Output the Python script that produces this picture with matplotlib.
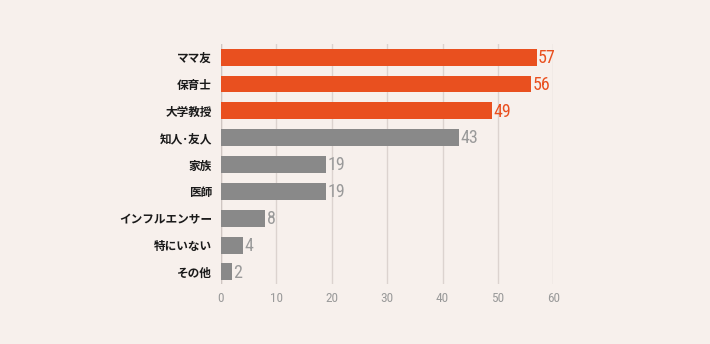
import matplotlib
matplotlib.use("Agg")
import matplotlib.pyplot as plt
from matplotlib import font_manager

categories = ["ママ友", "保育士", "大学教授", "知人･友人", "家族", "医師", "インフルエンサー", "特にいない", "その他"]
values = [57, 56, 49, 43, 19, 19, 8, 4, 2]
highlight = [True, True, True, False, False, False, False, False, False]
xticks = [0, 10, 20, 30, 40, 50, 60]

BG = "#f7f0ec"
ORANGE = "#e9501f"
GRAY = "#898989"
LABEL_GRAY = "#9a9a9a"

names = {f.name for f in font_manager.fontManager.ttflist}
NUMFONT = "DejaVu Sans"
for cand in ["Roboto Condensed", "Barlow Condensed", "Pathway Gothic One", "Oswald",
             "Archivo Narrow", "PT Sans Narrow"]:
    if cand in names:
        NUMFONT = cand
        break

plt.rcParams['font.family'] = ['Noto Sans CJK JP', 'DejaVu Sans']

fig = plt.figure(figsize=(7.10, 3.44), dpi=100, facecolor=BG)
ax = fig.add_axes([221/710, 60/344, (553.4-221)/710, (300-60)/344])
ax.set_facecolor(BG)

ypos = list(range(len(categories)))
colors = [ORANGE if h else GRAY for h in highlight]
ax.barh(ypos, values, height=0.63, color=colors, zorder=3)

for y, v, h in zip(ypos, values, highlight):
    ax.text(v + 0.25, y + 0.03, str(v), va="center", ha="left",
            color=ORANGE if h else LABEL_GRAY, fontsize=13,
            family=[NUMFONT], fontweight="normal", zorder=4)

ax.set_xlim(0, 60)
ax.set_ylim(8.45, -0.49)
ax.set_xticks(xticks)
ax.set_xticklabels([str(t) for t in xticks], color=LABEL_GRAY, fontsize=9.5,
                   family=[NUMFONT])
ax.set_yticks(ypos)
ax.set_yticklabels(categories, fontsize=8.4, fontweight="bold", color="#1a1a1a")
ax.tick_params(axis="both", length=0)
ax.tick_params(axis="y", pad=6.5)
ax.tick_params(axis="x", pad=6)
ax.xaxis.grid(True, color="#dcd3cf", linewidth=1, zorder=0)
for s in ax.spines.values():
    s.set_visible(False)
ax.axvline(0, color="#cfc6c2", linewidth=1, zorder=2)

fig.savefig("out.png", dpi=100, facecolor=BG)
